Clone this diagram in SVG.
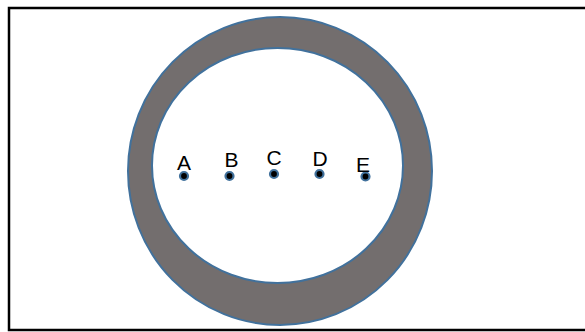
<svg xmlns="http://www.w3.org/2000/svg" width="585" height="332" viewBox="0 0 585 332">
<style>
.lbl{font-family:"Liberation Sans","Open Sans",sans-serif;font-size:21px;fill:#000;text-anchor:middle}
.pt{fill:#000;stroke:#41719c;stroke-width:2.2}
</style>
<rect width="585" height="332" fill="#fff"/>
<rect x="9" y="8" width="590" height="322" fill="none" stroke="#000" stroke-width="2.5"/>
<g id="ring">
<path d="M432,171 A152,154 0 1 0 128,171 A152,154 0 1 0 432,171 Z M403,165.5 A125.5,117.5 0 1 1 152,165.5 A125.5,117.5 0 1 1 403,165.5 Z" fill="#736e6e" fill-rule="evenodd" stroke="#41719c" stroke-width="2"/>
</g>
<g id="A"><circle class="pt" cx="184" cy="176" r="4"/><text class="lbl" x="184" y="170">A</text></g>
<g id="B"><circle class="pt" cx="229.5" cy="176" r="4"/><text class="lbl" x="231.5" y="167">B</text></g>
<g id="C"><circle class="pt" cx="274" cy="174" r="4"/><text class="lbl" x="274" y="165">C</text></g>
<g id="D"><circle class="pt" cx="319.5" cy="174" r="4"/><text class="lbl" x="320" y="166">D</text></g>
<g id="E"><circle class="pt" cx="365.5" cy="176.5" r="4"/><text class="lbl" x="363" y="172">E</text></g>
<g id="connectors"></g>
</svg>
